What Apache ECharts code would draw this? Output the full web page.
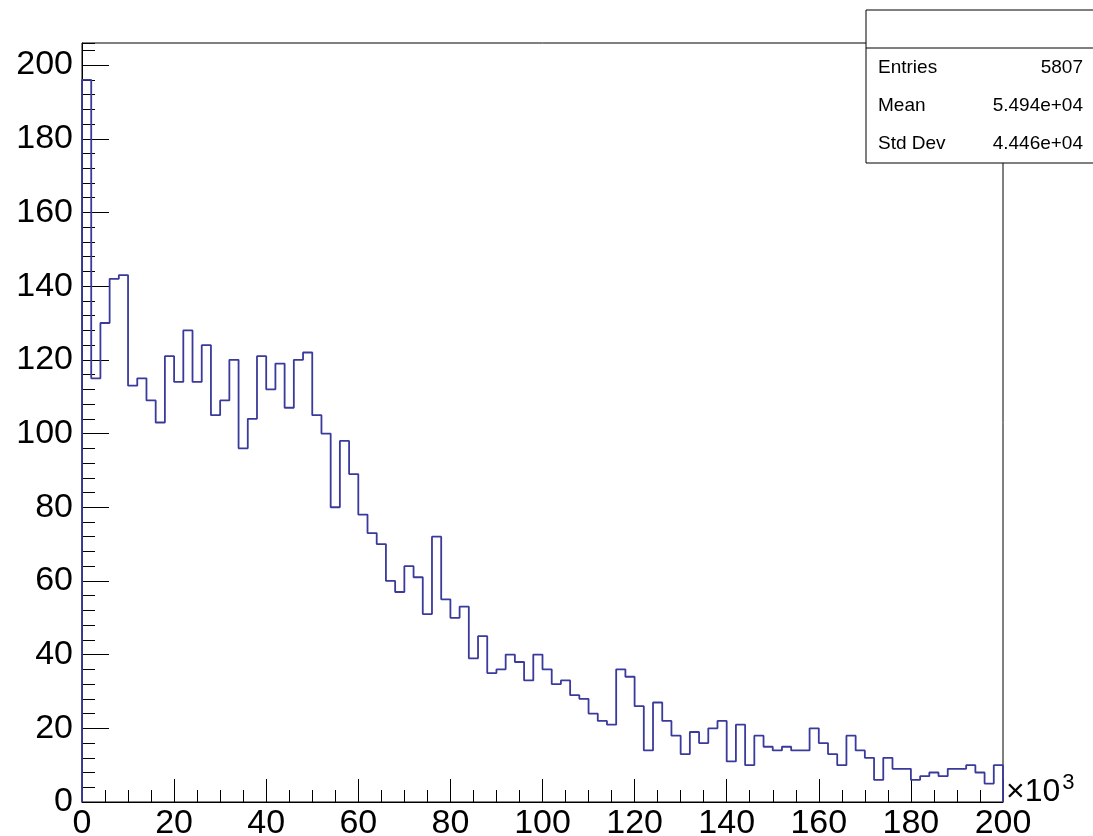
<!DOCTYPE html>
<html>
<head>
<meta charset="utf-8">
<script src="https://cdn.jsdelivr.net/npm/echarts@6/dist/echarts.min.js"></script>
<style>
  html, body { margin: 0; padding: 0; background: #fff; }
  #main { width: 1093px; height: 836px; }
</style>
</head>
<body>
<div id="main"></div>
<script>
// histogram: 100 bins of 2 (x10^3) from 0 to 200
const binWidth = 2
const counts = [
  196, 115, 130, 142, 143, 113, 115, 109, 103, 121, 114, 128, 114, 124, 105, 109, 120, 96, 104, 121, 112, 119, 107, 120, 122,
  105, 100, 80, 98, 89, 78, 73, 70, 60, 57, 64, 61, 51, 72, 55, 50, 53, 39, 45, 35, 36, 40, 38, 33, 40,
  36, 32, 33, 29, 28, 24, 22, 21, 36, 34, 26, 14, 27, 22, 18, 13, 19, 16, 20, 22, 11, 21, 10, 18, 15,
  14, 15, 14, 14, 20, 16, 13, 10, 18, 14, 12, 6, 12, 9, 9, 6, 7, 8, 7, 9, 9, 10, 8, 5, 10
]
const statNames = ['Entries', 'Mean', 'Std Dev']
const statValues = ['5807', '5.494e+04', '4.446e+04']

const axisFont = "'Liberation Sans', Arial, sans-serif"

// step outline points: left edge of each bin, closed down to 0 on both ends
const stepData = [[0, 0]]
counts.forEach((c, i) => {
  stepData.push([i * binWidth, c])
})
stepData.push([counts.length * binWidth, counts[counts.length - 1]])
stepData.push([counts.length * binWidth, 0])

const chart = echarts.init(document.getElementById('main'))

// stats box (top right)
const statGraphics = [
  {
    type: 'rect',
    shape: { x: 866, y: 10, width: 240, height: 153 },
    style: { fill: '#fff', stroke: '#000', lineWidth: 1 },
    z: 100
  },
  {
    type: 'line',
    shape: { x1: 866, y1: 48, x2: 1093, y2: 48 },
    style: { stroke: '#000', lineWidth: 1 },
    z: 101
  }
]
statNames.forEach((name, i) => {
  statGraphics.push({
    type: 'text',
    x: 878,
    y: 68 + i * 38,
    style: { text: name, font: '19px ' + axisFont, fill: '#000', textVerticalAlign: 'middle' },
    z: 102
  })
  statGraphics.push({
    type: 'text',
    x: 1083,
    y: 68 + i * 38,
    style: { text: statValues[i], font: '19px ' + axisFont, fill: '#000', textAlign: 'right', textVerticalAlign: 'middle' },
    z: 102
  })
})
// x10^3 exponent of the x axis
statGraphics.push({
  type: 'text',
  x: 1006,
  y: 792,
  style: {
    text: '{a|×10}{b|3}',
    rich: {
      a: { fontSize: 32, fontFamily: axisFont, fill: '#000' },
      b: { fontSize: 22, fontFamily: axisFont, fill: '#000', verticalAlign: 'top', padding: [0, 0, 18, 2] }
    },
    textVerticalAlign: 'middle'
  },
  z: 102
})

const option = {
  animation: false,
  backgroundColor: '#fff',
  grid: {
    left: 82,
    top: 43,
    width: 921,
    height: 759,
    outerBoundsMode: 'none',
    containLabel: false,
    show: true,
    borderColor: '#000',
    borderWidth: 1,
    backgroundColor: 'transparent'
  },
  xAxis: {
    type: 'value',
    min: 0,
    max: 200,
    interval: 20,
    axisLine: { show: true, lineStyle: { color: '#000', width: 1 } },
    axisTick: { show: true, inside: true, length: 23, lineStyle: { color: '#000' } },
    minorTick: { show: true, splitNumber: 4, length: 12, lineStyle: { color: '#000' } },
    splitLine: { show: false },
    axisLabel: { color: '#000', fontSize: 34, fontFamily: axisFont, margin: 5 }
  },
  yAxis: [
    {
      type: 'value',
      min: 0,
      max: 206,
      interval: 20,
      axisLine: { show: true, lineStyle: { color: '#000', width: 1 } },
      axisTick: { show: true, inside: true, length: 27, lineStyle: { color: '#000' } },
      splitLine: { show: false },
      axisLabel: {
        color: '#000',
        fontSize: 34,
        fontFamily: axisFont,
        margin: 9,
        showMaxLabel: false,
        formatter: v => (v % 20 === 0 ? String(v) : '')
      }
    },
    {
      // minor ticks every 4
      type: 'value',
      position: 'left',
      min: 0,
      max: 206,
      interval: 4,
      axisLine: { show: false },
      axisTick: { show: true, inside: true, length: 13, lineStyle: { color: '#000' } },
      splitLine: { show: false },
      axisLabel: { show: false }
    }
  ],
  series: [
    {
      type: 'line',
      step: 'end',
      data: stepData,
      yAxisIndex: 0,
      symbol: 'none',
      lineStyle: { color: '#3a3a9c', width: 1.8 },
      z: 5
    }
  ],
  graphic: statGraphics
}

chart.setOption(option)
</script>
</body>
</html>
